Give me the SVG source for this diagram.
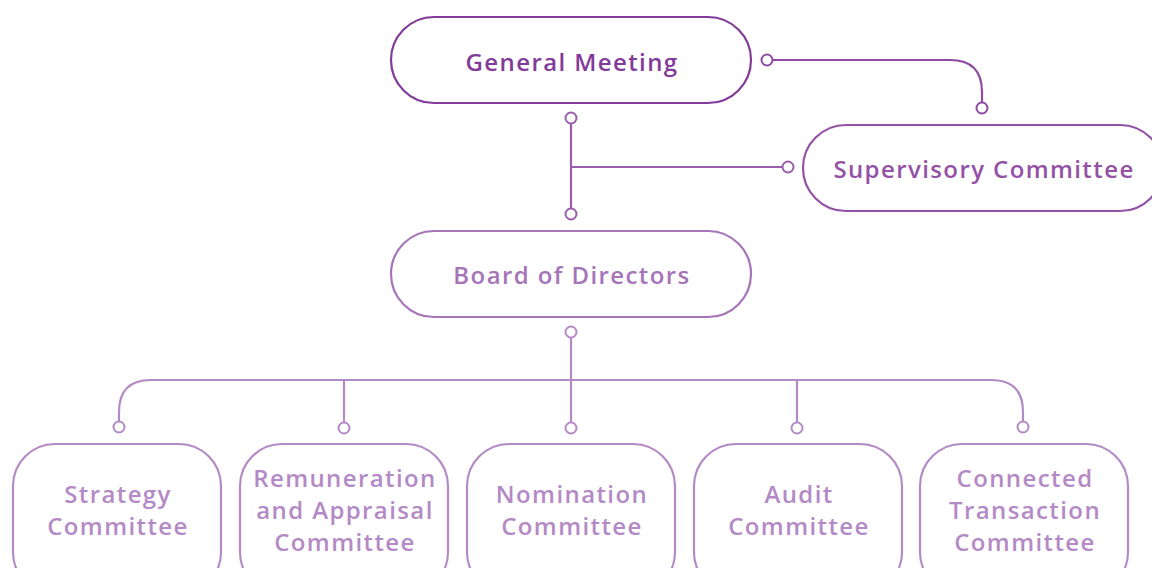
<svg xmlns="http://www.w3.org/2000/svg" width="1152" height="568" viewBox="0 0 1152 568">
<style>
.box{fill:#fff;stroke-width:2.2}
.t{font-family:"Open Sans","Noto Sans",sans-serif;font-weight:600;font-size:24px;letter-spacing:1.4px;text-anchor:middle}
.c{fill:none;stroke-width:2.2;stroke-linecap:round}
.dot{fill:#fff;stroke-width:2}
</style>
<rect width="1152" height="568" fill="#fff"/>
<g id="connectors">
  <g stroke="#8E4AA2">
    <path class="c" d="M772 60 H950 Q982 60 982 92 V103"/>
    <circle class="dot" cx="767" cy="60" r="5.5"/>
    <circle class="dot" cx="982" cy="108" r="5.5"/>
  </g>
  <g stroke="#9A5EAD">
    <path class="c" d="M571 123 V209 M571 167 H783"/>
    <circle class="dot" cx="571" cy="118" r="5.5"/>
    <circle class="dot" cx="571" cy="214" r="5.5"/>
    <circle class="dot" cx="788" cy="167" r="5.5"/>
  </g>
  <g stroke="#B48AC6">
    <path class="c" d="M571 337 V423 M151 380 H991 Q1023 380 1023 412 V422 M151 380 Q119 380 119 412 V422 M344 380 V423 M797 380 V423"/>
    <circle class="dot" cx="571" cy="332" r="5.5"/>
    <circle class="dot" cx="119" cy="427" r="5.5"/>
    <circle class="dot" cx="344" cy="428" r="5.5"/>
    <circle class="dot" cx="571" cy="428" r="5.5"/>
    <circle class="dot" cx="797" cy="428" r="5.5"/>
    <circle class="dot" cx="1023" cy="427" r="5.5"/>
  </g>
</g>
<g id="general-meeting">
  <rect class="box" x="391" y="17" width="360" height="86" rx="43" stroke="#833B9A" stroke-width="2.6"/>
  <text class="t" x="572" y="71" fill="#833B9A">General Meeting</text>
</g>
<g id="supervisory-committee">
  <rect class="box" x="803" y="125" width="360" height="86" rx="43" stroke="#9352A6"/>
  <text class="t" x="984" y="178" fill="#9352A6">Supervisory Committee</text>
</g>
<g id="board-of-directors">
  <rect class="box" x="391" y="231" width="360" height="86" rx="43" stroke="#A674B8"/>
  <text class="t" x="572" y="284" fill="#A674B8">Board of Directors</text>
</g>
<g id="strategy-committee">
  <rect class="box" x="13" y="444" width="208" height="150" rx="42" stroke="#B48AC6"/>
  <text class="t" fill="#B48AC6"><tspan x="118" y="503">Strategy</tspan><tspan x="118" y="535">Committee</tspan></text>
</g>
<g id="remuneration-committee">
  <rect class="box" x="240" y="444" width="208" height="150" rx="42" stroke="#B48AC6"/>
  <text class="t" fill="#B48AC6"><tspan x="345" y="487">Remuneration</tspan><tspan x="345" y="519">and Appraisal</tspan><tspan x="345" y="551">Committee</tspan></text>
</g>
<g id="nomination-committee">
  <rect class="box" x="467" y="444" width="208" height="150" rx="42" stroke="#B48AC6"/>
  <text class="t" fill="#B48AC6"><tspan x="572" y="503">Nomination</tspan><tspan x="572" y="535">Committee</tspan></text>
</g>
<g id="audit-committee">
  <rect class="box" x="694" y="444" width="208" height="150" rx="42" stroke="#B48AC6"/>
  <text class="t" fill="#B48AC6"><tspan x="799" y="503">Audit</tspan><tspan x="799" y="535">Committee</tspan></text>
</g>
<g id="connected-transaction-committee">
  <rect class="box" x="920" y="444" width="208" height="150" rx="42" stroke="#B48AC6"/>
  <text class="t" fill="#B48AC6"><tspan x="1025" y="487">Connected</tspan><tspan x="1025" y="519">Transaction</tspan><tspan x="1025" y="551">Committee</tspan></text>
</g>
</svg>
